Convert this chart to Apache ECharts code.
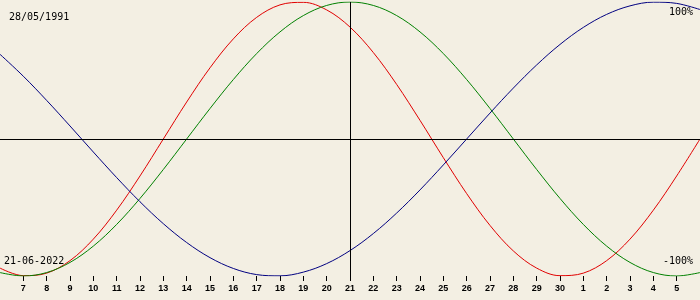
<!DOCTYPE html>
<html>
<head>
<meta charset="utf-8">
<script src="https://cdn.jsdelivr.net/npm/echarts@6/dist/echarts.min.js"></script>
<style>html,body{margin:0;padding:0;background:#f3efe3;}#c{width:700px;height:300px;}</style>
</head>
<body>
<div id="c"></div>
<script>
// Days from 6 June 2022 to 6 July 2022
const dayLabels = ['6','7','8','9','10','11','12','13','14','15','16','17','18','19','20','21','22','23','24','25','26','27','28','29','30','1','2','3','4','5','6'];
// Physical (red)
const physical = [-0.9423,-0.9977,-0.9791,-0.8879,-0.7308,-0.5196,-0.2698,0,0.2698,0.5196,0.7308,0.8879,0.9791,0.9977,0.9423,0.8170,0.6310,0.3984,0.1362,-0.1362,-0.3984,-0.6310,-0.8170,-0.9423,-0.9977,-0.9791,-0.8879,-0.7308,-0.5196,-0.2698,0];
// Emotional (green)
const emotional = [-0.9749,-1,-0.9749,-0.9010,-0.7818,-0.6235,-0.4339,-0.2225,0,0.2225,0.4339,0.6235,0.7818,0.9010,0.9749,1,0.9749,0.9010,0.7818,0.6235,0.4339,0.2225,0,-0.2225,-0.4339,-0.6235,-0.7818,-0.9010,-0.9749,-1,-0.9749];
// Intellectual (blue)
const intellectual = [0.6182,0.4582,0.2817,0.0951,-0.0951,-0.2817,-0.4582,-0.6182,-0.7557,-0.8660,-0.9450,-0.9898,-0.9989,-0.9718,-0.9096,-0.8146,-0.6901,-0.5406,-0.3717,-0.1893,0,0.1893,0.3717,0.5406,0.6901,0.8146,0.9096,0.9718,0.9989,0.9898,0.9450];
const todayIndex = 15;
const birthText = '28/05/1991';
const dateText = '21-06-2022';
const topText = '100%';
const bottomText = '-100%';

const chart = echarts.init(document.getElementById('c'));
const inner = (i) => i > 0 && i < dayLabels.length - 1;
const mono = '"DejaVu Sans Mono", monospace';
function line(name, data, color, extra) {
  return Object.assign({
    name, type: 'line', data, smooth: 0.35, symbol: 'none',
    lineStyle: { color, width: 1 }, silent: true
  }, extra || {});
}
chart.setOption({
  animation: false,
  backgroundColor: '#f3efe3',
  grid: { left: 0, right: 0, top: 2, bottom: 24 },
  xAxis: {
    type: 'category', data: dayLabels, boundaryGap: false,
    axisLine: { show: false, onZero: false },
    axisTick: { show: true, length: 5, interval: inner, lineStyle: { color: '#000', width: 1 } },
    axisLabel: { interval: inner, margin: 8, color: '#000', fontSize: 9, fontWeight: 'bold', fontFamily: '"Liberation Sans", Arial, sans-serif' },
    splitLine: { show: false }
  },
  yAxis: { type: 'value', min: -1, max: 1, show: false },
  series: [
    line('Physical', physical, '#e00000', {
      markLine: {
        silent: true, symbol: 'none', label: { show: false },
        lineStyle: { color: '#000', type: 'solid', width: 1 },
        data: [{ xAxis: todayIndex }, { yAxis: 0 }]
      }
    }),
    line('Emotional', emotional, '#008000'),
    line('Intellectual', intellectual, '#000080')
  ],
  graphic: [
    { type: 'text', left: 9, top: 12, style: { text: birthText, font: '10px ' + mono, fill: '#000' } },
    { type: 'text', right: 7, top: 7, style: { text: topText, font: '10px ' + mono, fill: '#000' } },
    { type: 'text', left: 4, top: 256, style: { text: dateText, font: '10px ' + mono, fill: '#000' } },
    { type: 'text', right: 7, top: 256, style: { text: bottomText, font: '10px ' + mono, fill: '#000' } }
  ]
});
</script>
</body>
</html>
